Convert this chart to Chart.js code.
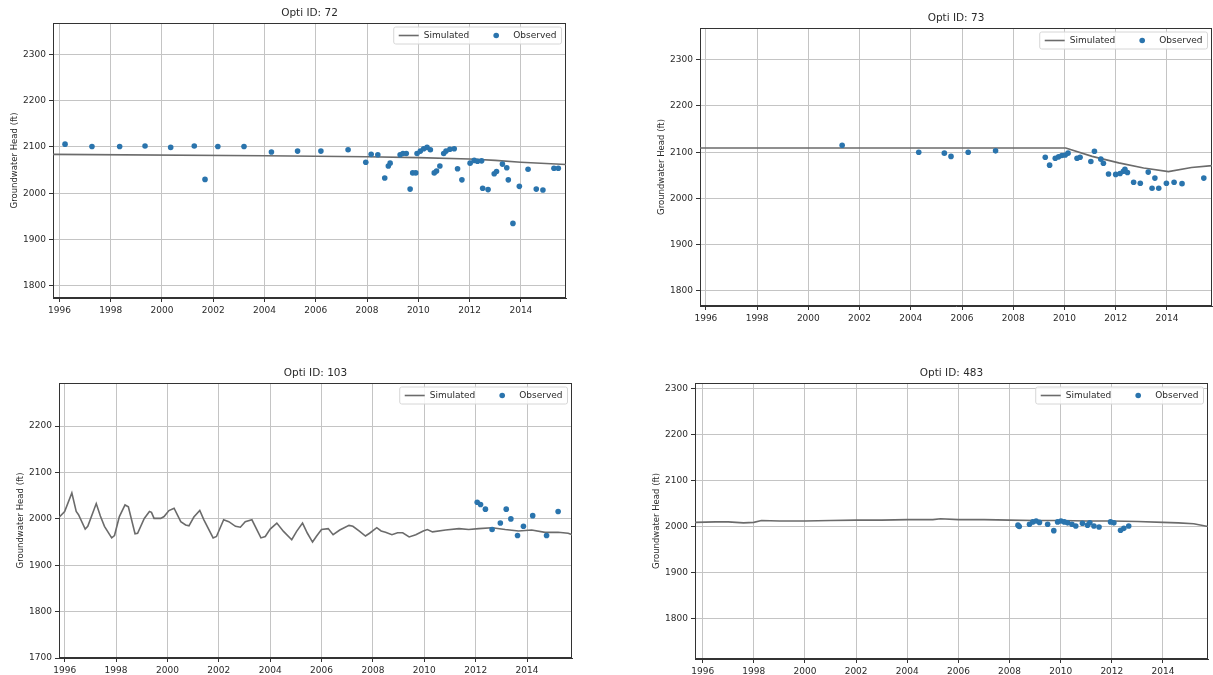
<!DOCTYPE html>
<html><head><meta charset="utf-8">
<script src="https://cdn.jsdelivr.net/npm/chart.js@4.4.1/dist/chart.umd.min.js"></script>
<style>
html,body{margin:0;padding:0;background:#fff;overflow:hidden;}
#wrap{position:relative;width:1213px;height:675px;overflow:hidden;background:#fff;}
canvas{position:absolute;}
</style></head><body><div id="wrap">
<canvas id="c72"></canvas><canvas id="c73"></canvas><canvas id="c103"></canvas><canvas id="c483"></canvas>
</div>
<script>
// ---------- data ----------
const xTickYears = [1996,1998,2000,2002,2004,2006,2008,2010,2012,2014];
const yTicks72 = [1800,1900,2000,2100,2200,2300];
const yTicks73 = [1800,1900,2000,2100,2200,2300];
const yTicks103 = [1700,1800,1900,2000,2100,2200];
const yTicks483 = [1800,1900,2000,2100,2200,2300];
const panelTitles = ['Opti ID: 72','Opti ID: 73','Opti ID: 103','Opti ID: 483'];
const yAxisLabel = 'Groundwater Head (ft)';
const seriesNames = ['Simulated','Observed'];

const sim72Years = [1995.75,2004,2008,2010,2012,2013,2014,2015.76];
const sim72Heads = [2084,2081,2079,2077,2074,2071,2067,2062];
const obs72Years = [1996.22,1997.27,1998.35,1999.34,2000.34,2001.26,2001.68,2002.18,2003.20,2004.27,2005.29,2006.20,2007.26,
  2007.95,2008.16,2008.42,2008.69,2008.83,2008.90,2009.29,2009.40,2009.53,2009.68,2009.78,2009.90,2009.95,2010.08,2010.21,
  2010.34,2010.47,2010.62,2010.71,2010.84,2010.99,2011.08,2011.23,2011.40,2011.53,2011.70,2012.02,2012.18,2012.31,2012.47,
  2012.51,2012.72,2012.96,2013.05,2013.28,2013.45,2013.51,2013.69,2013.94,2014.28,2014.60,2014.86,2015.29,2015.46];
const obs72Heads = [2106,2101,2101,2102,2099,2102,2030,2101,2101,2089,2091,2091,2094,
  2067,2084,2083,2033,2059,2065,2083,2086,2086,2009,2044,2044,2086,2091,2096,
  2099,2094,2044,2048,2059,2086,2091,2095,2096,2053,2029,2065,2071,2069,2070,
  2011,2008,2042,2047,2063,2055,2029,1935,2015,2052,2009,2007,2054,2054];

const sim73Years = [1995.77,2000,2005,2010.05,2011.08,2012.12,2013.09,2014.06,2014.96,2015.76];
const sim73Heads = [2109,2109,2109,2109,2091,2077,2066,2058,2067,2071];
const obs73Years = [2001.32,2004.31,2005.31,2005.57,2006.24,2007.31,2009.25,2009.42,2009.64,2009.77,2009.90,2010.03,2010.14,
  2010.49,2010.61,2011.03,2011.17,2011.42,2011.52,2011.72,2012.00,2012.17,2012.30,2012.36,2012.46,2012.70,2012.96,2013.27,
  2013.42,2013.53,2013.68,2013.98,2014.28,2014.59,2015.44];
const obs73Heads = [2115,2100,2098,2091,2100,2103,2089,2072,2087,2090,2093,2094,2098,
  2087,2089,2080,2102,2085,2076,2053,2052,2054,2059,2063,2056,2035,2033,2057,
  2022,2044,2022,2033,2035,2032,2044];

const sim103Years = [1995.74,1996.00,1996.28,1996.45,1996.54,1996.80,1996.90,1997.23,1997.39,1997.55,1997.83,1997.94,
  1998.13,1998.35,1998.48,1998.74,1998.84,1999.10,1999.30,1999.38,1999.48,1999.74,1999.87,2000.06,2000.26,2000.52,
  2000.71,2000.84,2001.03,2001.26,2001.42,2001.78,2001.91,2002.19,2002.39,2002.65,2002.84,2003.03,2003.29,2003.64,
  2003.81,2004.00,2004.26,2004.52,2004.84,2005.03,2005.26,2005.45,2005.65,2005.81,2006.00,2006.26,2006.45,2006.71,
  2007.07,2007.22,2007.46,2007.71,2007.87,2008.15,2008.32,2008.49,2008.74,2008.96,2009.16,2009.41,2009.67,2009.96,
  2010.12,2010.32,2010.83,2011.35,2011.73,2012.12,2012.64,2013.15,2013.67,2014.18,2014.70,2015.21,2015.60,2015.76];
const sim103Heads = [2001,2016,2056,2016,2009,1978,1984,2033,2006,1984,1959,1964,
  2005,2030,2026,1968,1969,2001,2016,2014,2001,2001,2005,2018,2023,1994,
  1987,1985,2004,2018,1998,1959,1962,1998,1994,1984,1982,1994,1998,1959,
  1962,1978,1991,1973,1955,1973,1991,1969,1950,1963,1977,1979,1966,1976,
  1986,1984,1974,1963,1969,1981,1974,1971,1966,1970,1970,1961,1966,1974,
  1977,1972,1976,1979,1977,1979,1981,1977,1974,1976,1971,1971,1969,1966];
const obs103Years = [2012.06,2012.19,2012.38,2012.64,2012.96,2013.19,2013.37,2013.63,2013.86,2014.22,2014.76,2015.21];
const obs103Heads = [2036,2031,2021,1977,1991,2021,2000,1964,1984,2007,1964,2016];

const sim483Years = [1995.7,1996.5,1997,1997.6,1998,1998.3,1999,2000,2001,2002,2003,2004,2005,2005.3,2006,2007,
  2008,2009,2010,2011,2012,2013,2014,2014.6,2015.2,2015.76];
const sim483Heads = [2010,2011,2011,2009,2010,2014,2013,2013,2014,2015,2015,2016,2016,2018,2016,2016,
  2015,2014,2014,2013,2013,2012,2010,2009,2007,2001];
const obs483Years = [2008.33,2008.38,2008.78,2008.91,2009.04,2009.17,2009.49,2009.73,2009.88,2010.01,2010.14,2010.27,
  2010.44,2010.59,2010.85,2011.05,2011.14,2011.30,2011.50,2011.95,2012.08,2012.34,2012.47,2012.66];
const obs483Heads = [2004,2001,2006,2011,2013,2010,2006,1992,2011,2013,2011,2009,
  2006,2002,2008,2004,2009,2002,2000,2011,2009,1993,1997,2002];

// ---------- layout (page geometry) ----------
const Y_AXIS_W = 50, X_AXIS_H = 22, TITLE_H = 18;
const layouts = [
  {id:'c72',  left:3,   top:5,   plotW:517, plotH:275, xMin:1995.75, xMax:2015.76, yMin:1774,   yMax:2367.5},
  {id:'c73',  left:650, top:10,  plotW:516, plotH:278, xMin:1995.77, xMax:2015.76, yMin:1767.5, yMax:2368.6},
  {id:'c103', left:9,   top:365, plotW:517, plotH:275, xMin:1995.78, xMax:2015.75, yMin:1700,   yMax:2293},
  {id:'c483', left:645, top:365, plotW:517, plotH:276, xMin:1995.70, xMax:2015.76, yMin:1713,   yMax:2313}
];

const FONT = 'DejaVu Sans';
const TEXT_COLOR = '#2a2a2a';
const SIM_COLOR = '#6b6b6b';
const OBS_COLOR = '#2a74ad';

const frameAndLegend = {
  id: 'frameAndLegend',
  beforeDatasetsDraw(chart) {
    const {ctx, chartArea: a} = chart;
    ctx.save();
    ctx.strokeStyle = '#333'; ctx.lineWidth = 1;
    const l = Math.round(a.left) + 0.5, t = Math.round(a.top) + 0.5;
    const r = Math.round(a.right) - 0.5, b = Math.round(a.bottom) - 0.5;
    ctx.strokeRect(l, t, r - l, b - t);
    ctx.restore();
  },
  afterDatasetsDraw(chart) {
    const {ctx, chartArea: a} = chart;
    const sim = chart.data.datasets[0], obs = chart.data.datasets[1];
    ctx.save();
    ctx.font = '9px "' + FONT + '"';
    const wSim = ctx.measureText(sim.label).width, wObs = ctx.measureText(obs.label).width;
    const right = a.right - 4.5, top = a.top + 4, h = 17, cy = top + h / 2;
    const obsStart = right - 5 - wObs;
    const dotX = obsStart - 17;
    const simEnd = dotX - 27;
    const simStart = simEnd - wSim;
    const left = simStart - 30;
    ctx.fillStyle = 'rgba(255,255,255,0.85)';
    ctx.strokeStyle = '#d6d6d6'; ctx.lineWidth = 1;
    ctx.beginPath(); ctx.roundRect(left, top, right - left, h, 2); ctx.fill(); ctx.stroke();
    ctx.strokeStyle = sim.borderColor; ctx.lineWidth = sim.borderWidth;
    ctx.beginPath(); ctx.moveTo(simStart - 25, cy); ctx.lineTo(simStart - 5, cy); ctx.stroke();
    ctx.fillStyle = obs.backgroundColor;
    ctx.beginPath(); ctx.arc(dotX, cy, obs.pointRadius, 0, Math.PI * 2); ctx.fill();
    ctx.fillStyle = TEXT_COLOR; ctx.textBaseline = 'middle'; ctx.textAlign = 'left';
    ctx.fillText(sim.label, simStart, cy);
    ctx.fillText(obs.label, obsStart, cy);
    ctx.restore();
  }
};

function pairs(xs, ys) { return xs.map((x, i) => ({x: x, y: ys[i]})); }

function makeChart(lay, title, simX, simY, obsX, obsY, yTicks) {
  const cv = document.getElementById(lay.id);
  const W = Y_AXIS_W + lay.plotW, H = TITLE_H + lay.plotH + X_AXIS_H;
  cv.width = W; cv.height = H;
  cv.style.left = lay.left + 'px'; cv.style.top = lay.top + 'px';
  cv.style.width = W + 'px'; cv.style.height = H + 'px';
  const tickFont = {family: FONT, size: 9};
  const grid = {color: '#c4c4c4', lineWidth: 1, tickColor: '#333', tickLength: 4};
  const border = {display: true, color: '#333', width: 1};
  new Chart(cv, {
    type: 'scatter',
    data: {datasets: [
      {label: seriesNames[0], data: pairs(simX, simY), showLine: true, borderColor: SIM_COLOR,
       backgroundColor: SIM_COLOR, borderWidth: 1.6, pointRadius: 0, tension: 0, order: 2},
      {label: seriesNames[1], data: pairs(obsX, obsY), backgroundColor: OBS_COLOR,
       borderColor: OBS_COLOR, borderWidth: 0, pointRadius: 2.8, order: 1}
    ]},
    options: {
      responsive: false, animation: false, events: [], devicePixelRatio: 1,
      layout: {padding: 0},
      plugins: {
        legend: {display: false}, tooltip: {enabled: false},
        title: {display: true, text: title, fullSize: false, color: TEXT_COLOR,
                font: {family: FONT, size: 10.5, weight: 'normal', lineHeight: 1.2},
                padding: {top: 2.4, bottom: 3}}
      },
      scales: {
        x: {type: 'linear', position: 'bottom', min: lay.xMin, max: lay.xMax,
            afterBuildTicks: s => { s.ticks = xTickYears.map(v => ({value: v})); },
            afterFit: s => { s.height = X_AXIS_H; },
            ticks: {callback: v => String(v), autoSkip: false, maxRotation: 0, color: TEXT_COLOR, font: tickFont, padding: 3},
            grid: grid, border: border},
        y: {type: 'linear', position: 'left', min: lay.yMin, max: lay.yMax,
            afterBuildTicks: s => { s.ticks = yTicks.map(v => ({value: v})); },
            afterFit: s => { s.width = Y_AXIS_W; },
            ticks: {callback: v => String(v), color: TEXT_COLOR, font: tickFont, padding: 3},
            grid: grid, border: border,
            title: {display: true, text: yAxisLabel, color: TEXT_COLOR,
                    font: {family: FONT, size: 8.5, lineHeight: 1.2}, padding: {top: 6.9, bottom: 0}}}
      }
    },
    plugins: [frameAndLegend]
  });
}

makeChart(layouts[0], panelTitles[0], sim72Years, sim72Heads, obs72Years, obs72Heads, yTicks72);
makeChart(layouts[1], panelTitles[1], sim73Years, sim73Heads, obs73Years, obs73Heads, yTicks73);
makeChart(layouts[2], panelTitles[2], sim103Years, sim103Heads, obs103Years, obs103Heads, yTicks103);
makeChart(layouts[3], panelTitles[3], sim483Years, sim483Heads, obs483Years, obs483Heads, yTicks483);
</script>
</body></html>
